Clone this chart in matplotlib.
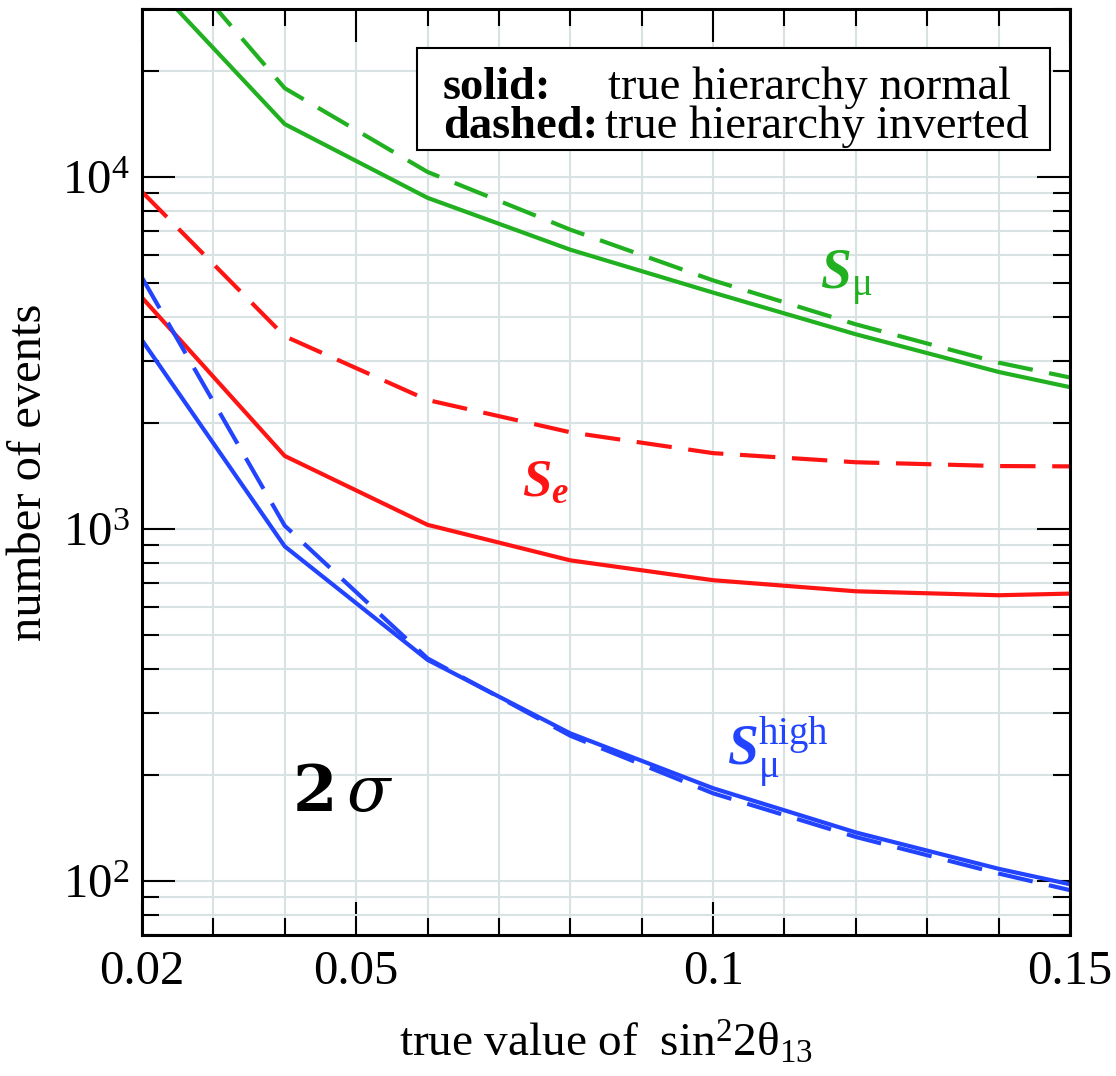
import numpy as np
import matplotlib
matplotlib.use('Agg')
import matplotlib.pyplot as plt
from matplotlib.ticker import MultipleLocator, FixedLocator, LogLocator
from matplotlib.patches import Rectangle

plt.rcParams['font.family'] = ['Liberation Serif', 'DejaVu Serif']
plt.rcParams['mathtext.fontset'] = 'custom'
plt.rcParams['mathtext.rm'] = 'Liberation Serif'
plt.rcParams['mathtext.it'] = 'Liberation Serif:italic'
plt.rcParams['mathtext.bf'] = 'Liberation Serif:bold'
plt.rcParams['mathtext.bfit'] = 'Liberation Serif:italic:bold'
plt.rcParams['mathtext.default'] = 'regular'

# ---------------- data ----------------
sin2 = [0.02, 0.04, 0.06, 0.08, 0.10, 0.12, 0.14, 0.15]

smu_normal     = [38200, 14130, 8720, 6210, 4690, 3570, 2790, 2525]
smu_inverted   = [52900, 17870, 10330, 7080, 5080, 3810, 2965, 2690]
se_normal      = [4540, 1610, 1026, 813, 714, 664, 647, 654]
se_inverted    = [9070, 3525, 2322, 1880, 1640, 1545, 1507, 1504]
shigh_normal   = [3435, 891, 424, 262, 183, 137, 108, 97.6]
shigh_inverted = [5175, 1020, 428, 258, 177, 133, 104.7, 93.9]

xticks = [0.02, 0.05, 0.1, 0.15]
xticklabels = ['0.02', '0.05', '0.1', '0.15']

green = '#20b020'
red = '#ff1414'
blue = '#2244ff'

# ---------------- figure ----------------
fig = plt.figure(figsize=(11.16, 10.76), dpi=100)
ax = fig.add_axes([0.1272, 0.1310, 0.8316, 0.8606])

lw = 3.0
dash = (8.5, 4)
ax.plot(sin2, smu_normal, color=green, lw=lw)
ax.plot(sin2, smu_inverted, color=green, lw=lw, dashes=dash)
ax.plot(sin2, se_normal, color=red, lw=lw)
ax.plot(sin2, se_inverted, color=red, lw=lw, dashes=dash)
ax.plot(sin2, shigh_normal, color=blue, lw=lw)
ax.plot(sin2, shigh_inverted, color=blue, lw=lw, dashes=dash)

ax.set_yscale('log')
ax.set_xlim(0.02, 0.15)
ax.set_ylim(70, 30000)

ax.xaxis.set_major_locator(FixedLocator(xticks))
ax.set_xticklabels(xticklabels)
ax.xaxis.set_minor_locator(MultipleLocator(0.01))
ax.yaxis.set_major_locator(LogLocator(base=10))
ax.yaxis.set_minor_locator(LogLocator(base=10, subs=np.arange(2, 10)))

ax.grid(True, which='both', color='#d8e2e2', lw=1.5, zorder=0)
ax.set_axisbelow(True)

ax.tick_params(which='both', direction='in', top=True, right=True, width=1.5, labelsize=35)
ax.tick_params(which='major', length=23.5)
ax.tick_params(which='minor', length=12)
ax.tick_params(axis='x', pad=11)
ax.tick_params(axis='y', pad=9)
for s in ax.spines.values():
    s.set_linewidth(2.2)

ax.set_xlabel(r'$\mathrm{true\ value\ of\ \ sin^{2}2\theta_{13}}$', fontsize=34, labelpad=18)
ax.set_ylabel('number of events', fontsize=35, labelpad=8)

# curve labels
ax.text(0.115, 4790, r'$\mathbfit{S}_{\mathrm{\mu}}$', color=green, fontsize=40)
ax.text(0.0732, 1240, r'$\mathbfit{S}_{\mathbfit{e}}$', color=red, fontsize=38)
ax.text(0.1019, 212, r'$\mathbfit{S}_{\mathrm{\mu}}^{\mathrm{high}}$', color=blue, fontsize=40)
ax.text(0.041, 158, r'$\mathbf{2}\,\mathit{\sigma}$', fontsize=46, math_fontfamily='dejavuserif')

# legend box
ax.add_patch(Rectangle((0.2963, 0.8477), 0.6817, 0.1103, transform=ax.transAxes,
                       fill=True, facecolor='white', edgecolor='black', lw=1.5, zorder=5))
ax.text(0.3244, 0.9028, 'solid:', fontsize=33.5, fontweight='bold', transform=ax.transAxes, zorder=6)
ax.text(0.5022, 0.9028, 'true hierarchy normal', fontsize=33.5, transform=ax.transAxes, zorder=6)
ax.text(0.3244, 0.8607, 'dashed:', fontsize=33.5, fontweight='bold', transform=ax.transAxes, zorder=6)
ax.text(0.4990, 0.8607, 'true hierarchy inverted', fontsize=33.5, transform=ax.transAxes, zorder=6)

fig.savefig('out.png', dpi=100)
